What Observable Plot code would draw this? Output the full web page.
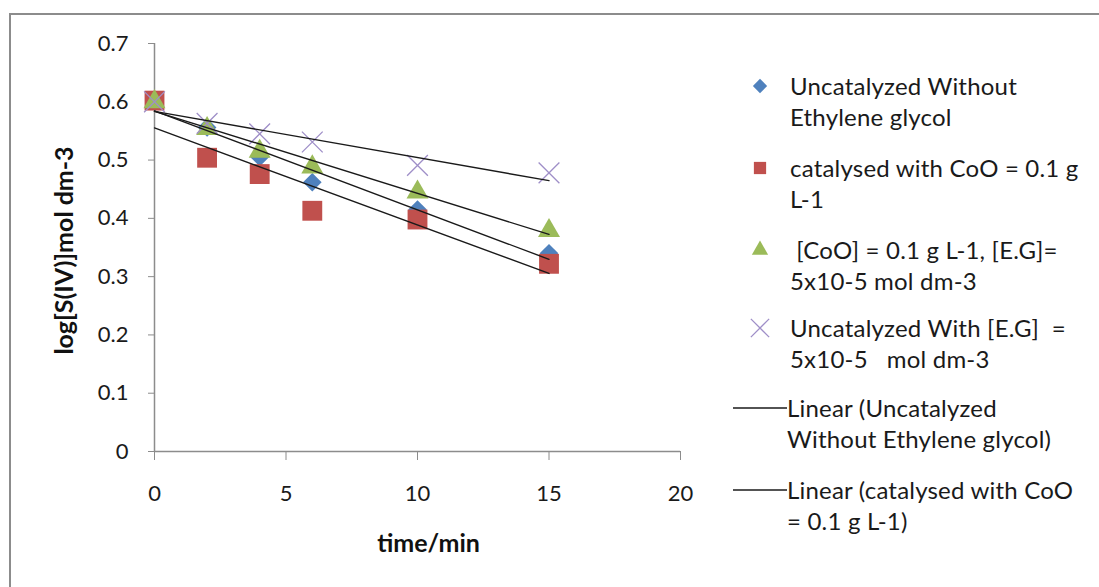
<!DOCTYPE html>
<html>
<head>
<meta charset="utf-8">
<script src="https://cdn.jsdelivr.net/npm/d3@7"></script>
<script src="https://cdn.jsdelivr.net/npm/@observablehq/plot@0.6"></script>
<style>
  html, body { margin: 0; padding: 0; background: #fff; }
  #wrap { position: relative; width: 1099px; height: 587px; overflow: hidden; font-family: Lato, "Open Sans", sans-serif; }
  #frame { position: absolute; left: 9px; top: 13px; width: 1200px; height: 700px; border: 2px solid #8c8c8c; box-sizing: border-box; }
  #chart { position: absolute; left: 0; top: 0; }
  .leg { position: absolute; font-size: 24px; line-height: 31px; letter-spacing: 0.2px; color: #1a1a1a; white-space: pre; }
  .sym { position: absolute; }
</style>
</head>
<body>
<div id="wrap">
  <div id="frame"></div>
  <div id="chart"></div>
  <div id="legend"></div>
</div>
<script>
// ---- data ----
const times = [0, 2, 4, 6, 10, 15];
const uncatNoEG = [0.600, 0.556, 0.505, 0.462, 0.415, 0.340];
const catCoO    = [0.602, 0.504, 0.476, 0.413, 0.398, 0.322];
const coOEG     = [0.600, 0.554, 0.515, 0.488, 0.445, 0.379];
const uncatEG   = [0.600, 0.563, 0.545, 0.531, 0.491, 0.478];

const seriesNames = [
  "Uncatalyzed Without\nEthylene glycol",
  "catalysed with CoO = 0.1 g\nL-1",
  " [CoO] = 0.1 g L-1, [E.G]=\n5x10-5 mol dm-3",
  "Uncatalyzed With [E.G]  =\n5x10-5   mol dm-3"
];
const trendNames = [
  "Linear (Uncatalyzed\nWithout Ethylene glycol)",
  "Linear (catalysed with CoO\n= 0.1 g L-1)"
];
const xTitle = "time/min";
const yTitle = "log[S(IV)]mol dm-3";
const xTicks = [0, 5, 10, 15, 20];
const yTicks = [0, 0.1, 0.2, 0.3, 0.4, 0.5, 0.6, 0.7];

const colors = ["#4F81BD", "#C0504D", "#9BBB59", "#9F8FC8"];
const symbols = ["diamond2", "square", "triangle2", "times"];
const radii = [8.4, 11.2, 10.5, 9.5];

const allSeries = [uncatNoEG, catCoO, coOEG, uncatEG];
const toRows = (vals, k) => times.map((t, i) => ({t, v: vals[i], k}));

const marks = [];
marks.push(Plot.ruleY([0], {stroke: "#8c8c8c", strokeWidth: 1.5}));
marks.push(Plot.ruleX([0], {stroke: "#8c8c8c", strokeWidth: 1.5}));
marks.push(Plot.axisX({
  ticks: xTicks, tickSize: 9, tickPadding: 25, fontSize: 22,
  stroke: "#8c8c8c", fill: "#1a1a1a", label: null
}));
marks.push(Plot.axisY({
  ticks: yTicks, tickSize: 6, tickPadding: 20, fontSize: 22,
  tickFormat: d => d === 0 ? "0" : d3.format(".1f")(d),
  stroke: "#8c8c8c", fill: "#1a1a1a", label: null
}));
// axis titles
marks.push(Plot.text([xTitle], {frameAnchor: "bottom", textAnchor: "middle", dx: 11, dy: 100, fontSize: 25, fontWeight: "bold", fill: "#111"}));
marks.push(Plot.text([yTitle], {frameAnchor: "left", textAnchor: "middle", rotate: -90, dx: -90, dy: 3, fontSize: 25, fontWeight: "bold", fill: "#111"}));
// points
allSeries.forEach((vals, k) => {
  const isTimes = symbols[k] === "times";
  marks.push(Plot.dot(toRows(vals, k), {
    x: "t", y: "v", symbol: () => symbols[k], r: radii[k],
    fill: isTimes ? "none" : colors[k],
    stroke: isTimes ? colors[k] : "none",
    strokeWidth: isTimes ? 1.3 : 0
  }));
});
// linear trend lines
allSeries.forEach((vals, k) => {
  marks.push(Plot.linearRegressionY(toRows(vals, k), {
    x: "t", y: "v", ci: 0, stroke: "#1a1a1a", strokeWidth: 1.4
  }));
});

const chart = Plot.plot({
  width: 1099, height: 587,
  marginLeft: 154, marginTop: 43, marginBottom: 136, marginRight: 419,
  x: {domain: [0, 20]},
  y: {domain: [0, 0.7]},
  style: {fontFamily: "Lato, 'Open Sans', sans-serif", fontSize: "22px", color: "#1a1a1a", background: "transparent", overflow: "visible"},
  marks
});
document.getElementById("chart").appendChild(chart);

// ---- legend ----
const legend = document.getElementById("legend");
const entryTops = [70, 152, 234, 312, 392, 474];
function addText(txt, left, top) {
  const d = document.createElement("div");
  d.className = "leg";
  d.style.left = left + "px";
  d.style.top = top + "px";
  d.textContent = txt;
  legend.appendChild(d);
}
seriesNames.forEach((name, k) => {
  const cy = entryTops[k] + 16;
  const svg = d3.create("svg").attr("class", "sym").attr("width", 30).attr("height", 30)
    .style("left", (760 - 15) + "px").style("top", (cy - 15) + "px");
  const sym = {diamond2: d3.symbolDiamond2, square: d3.symbolSquare, triangle2: d3.symbolTriangle2, times: d3.symbolTimes}[symbols[k]];
  const sizes = [130, 150, 190, 220];
  const p = svg.append("path").attr("transform", "translate(15,15)").attr("d", d3.symbol(sym, sizes[k])());
  if (symbols[k] === "times") p.attr("fill", "none").attr("stroke", colors[k]).attr("stroke-width", 1.3);
  else p.attr("fill", colors[k]);
  legend.appendChild(svg.node());
  addText(name, 790, entryTops[k]);
});
trendNames.forEach((name, j) => {
  const top = entryTops[4 + j];
  const cy = top + 16;
  const svg = d3.create("svg").attr("class", "sym").attr("width", 56).attr("height", 4)
    .style("left", "733px").style("top", (cy - 2) + "px");
  svg.append("line").attr("x1", 0).attr("x2", 54).attr("y1", 2).attr("y2", 2)
    .attr("stroke", "#1a1a1a").attr("stroke-width", 1.4);
  legend.appendChild(svg.node());
  addText(name, 787, top);
});
</script>
</body>
</html>
